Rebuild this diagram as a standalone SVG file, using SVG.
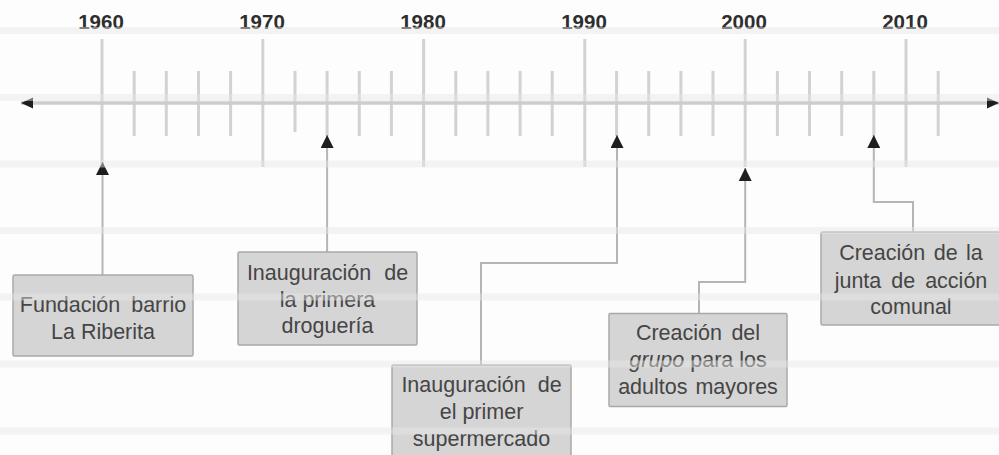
<svg xmlns="http://www.w3.org/2000/svg" width="999" height="455" viewBox="0 0 999 455">
<style>
.bg{fill:#fdfdfd}
.band{fill:#e6e6e6;opacity:0.45}
.major{stroke:#d2d2d2;stroke-width:3}
.minor{stroke:#d2d2d2;stroke-width:3}
.axis{stroke:#cdcdcd;stroke-width:3.5;fill:none}
.conn{stroke:#b5b5b5;stroke-width:2;fill:none}
.year{font-family:"Liberation Sans",Arial,sans-serif;font-weight:bold;font-size:20.5px;fill:#2e2e2e;text-anchor:middle}
.box{fill:#d5d5d5;stroke:#a9a9a9;stroke-width:1.5}
.lbl{font-family:"Liberation Sans",Arial,sans-serif;font-size:21.5px;fill:#454545;text-anchor:middle}
</style>
<defs>
<marker id="ah" markerUnits="userSpaceOnUse" markerWidth="13" markerHeight="13" viewBox="0 0 13 13" refX="13" refY="6.5" orient="auto-start-reverse">
<path d="M0,0 L13,6.5 L0,13 z" fill="#1e1e1e"/>
</marker>
<marker id="ax" markerUnits="userSpaceOnUse" markerWidth="12" markerHeight="12" viewBox="0 0 12 12" refX="12" refY="6" orient="auto-start-reverse">
<path d="M0,0.5 L12,6 L0,11.5 z" fill="#1e1e1e"/>
</marker>
</defs>
<rect class="bg" x="0" y="0" width="999" height="455"/>

<g id="ticks">
<line class="major" x1="102" y1="39" x2="102" y2="167"/>
<line class="major" x1="262.8" y1="39" x2="262.8" y2="167"/>
<line class="major" x1="423.6" y1="39" x2="423.6" y2="167"/>
<line class="major" x1="584.8" y1="39" x2="584.8" y2="167"/>
<line class="major" x1="745.2" y1="39" x2="745.2" y2="167"/>
<line class="major" x1="906" y1="39" x2="906" y2="167"/>
<line class="minor" x1="134.2" y1="71" x2="134.2" y2="136"/>
<line class="minor" x1="166.3" y1="71" x2="166.3" y2="136"/>
<line class="minor" x1="198.5" y1="71" x2="198.5" y2="136"/>
<line class="minor" x1="230.6" y1="71" x2="230.6" y2="136"/>
<line class="minor" x1="295" y1="71" x2="295" y2="132"/>
<line class="minor" x1="327.1" y1="71" x2="327.1" y2="136"/>
<line class="minor" x1="359.3" y1="71" x2="359.3" y2="136"/>
<line class="minor" x1="391.4" y1="71" x2="391.4" y2="136"/>
<line class="minor" x1="455.8" y1="71" x2="455.8" y2="136"/>
<line class="minor" x1="487.9" y1="71" x2="487.9" y2="136"/>
<line class="minor" x1="520.1" y1="71" x2="520.1" y2="136"/>
<line class="minor" x1="552.2" y1="71" x2="552.2" y2="136"/>
<line class="minor" x1="616.6" y1="71" x2="616.6" y2="136"/>
<line class="minor" x1="648.7" y1="71" x2="648.7" y2="136"/>
<line class="minor" x1="680.9" y1="71" x2="680.9" y2="136"/>
<line class="minor" x1="713" y1="71" x2="713" y2="136"/>
<line class="minor" x1="777.4" y1="71" x2="777.4" y2="136"/>
<line class="minor" x1="809.5" y1="71" x2="809.5" y2="136"/>
<line class="minor" x1="841.7" y1="71" x2="841.7" y2="136"/>
<line class="minor" x1="873.8" y1="71" x2="873.8" y2="136"/>
<line class="minor" x1="938.2" y1="71" x2="938.2" y2="136"/>
</g>

<g id="axis">
<line class="axis" x1="21" y1="103" x2="999" y2="103" marker-start="url(#ax)" marker-end="url(#ax)"/>
</g>

<g id="years">
<text class="year" x="101" y="28.5">1960</text>
<text class="year" x="262" y="28.5">1970</text>
<text class="year" x="423" y="28.5">1980</text>
<text class="year" x="584" y="28.5">1990</text>
<text class="year" x="744" y="28.5">2000</text>
<text class="year" x="905" y="28.5">2010</text>
</g>

<g id="connectors">
<path class="conn" d="M102.5 162 V275" marker-start="url(#ah)"/>
<path class="conn" d="M327.1 135 V252" marker-start="url(#ah)"/>
<path class="conn" d="M617 135 V263 H481 V365" marker-start="url(#ah)"/>
<path class="conn" d="M745.2 168 V282 H699 V313" marker-start="url(#ah)"/>
<path class="conn" d="M873.8 135 V202 H913 V232" marker-start="url(#ah)"/>
</g>

<g id="node-1960">
<rect class="box" x="13" y="275" width="180" height="81" rx="1.5"/>
<text class="lbl" x="103" y="311.5" word-spacing="5">Fundación barrio</text>
<text class="lbl" x="103" y="339">La Riberita</text>
</g>

<g id="node-1974">
<rect class="box" x="238" y="252" width="179" height="93" rx="1.5"/>
<text class="lbl" x="327.5" y="280" word-spacing="7">Inauguración de</text>
<text class="lbl" x="327.5" y="307">la primera</text>
<text class="lbl" x="327.5" y="333">droguería</text>
</g>

<g id="node-1992">
<rect class="box" x="392" y="365" width="179" height="100" rx="1.5"/>
<text class="lbl" x="481.5" y="391.5" word-spacing="6">Inauguración de</text>
<text class="lbl" x="481.5" y="419">el primer</text>
<text class="lbl" x="481.5" y="446">supermercado</text>
</g>

<g id="node-2000">
<rect class="box" x="609" y="313.5" width="178" height="93" rx="1.5"/>
<text class="lbl" x="698" y="340" word-spacing="3.5">Creación del</text>
<text class="lbl" x="698" y="367"><tspan font-style="italic">grupo</tspan> para los</text>
<text class="lbl" x="698" y="394" word-spacing="2">adultos mayores</text>
</g>

<g id="node-2008">
<rect class="box" x="821" y="232" width="180" height="93" rx="1.5"/>
<text class="lbl" x="911" y="260" word-spacing="2.5">Creación de la</text>
<text class="lbl" x="911" y="287.5" word-spacing="4">junta de acción</text>
<text class="lbl" x="911" y="314">comunal</text>
</g>

<g id="bands">
<rect class="band" x="0" y="27" width="999" height="7"/>
<rect class="band" x="0" y="94" width="999" height="7"/>
<rect class="band" x="0" y="160.5" width="999" height="7"/>
<rect class="band" x="0" y="227" width="999" height="7"/>
<rect class="band" x="0" y="293.5" width="999" height="7"/>
<rect class="band" x="0" y="360.5" width="999" height="7"/>
<rect class="band" x="0" y="427.5" width="999" height="7"/>
</g>
</svg>
